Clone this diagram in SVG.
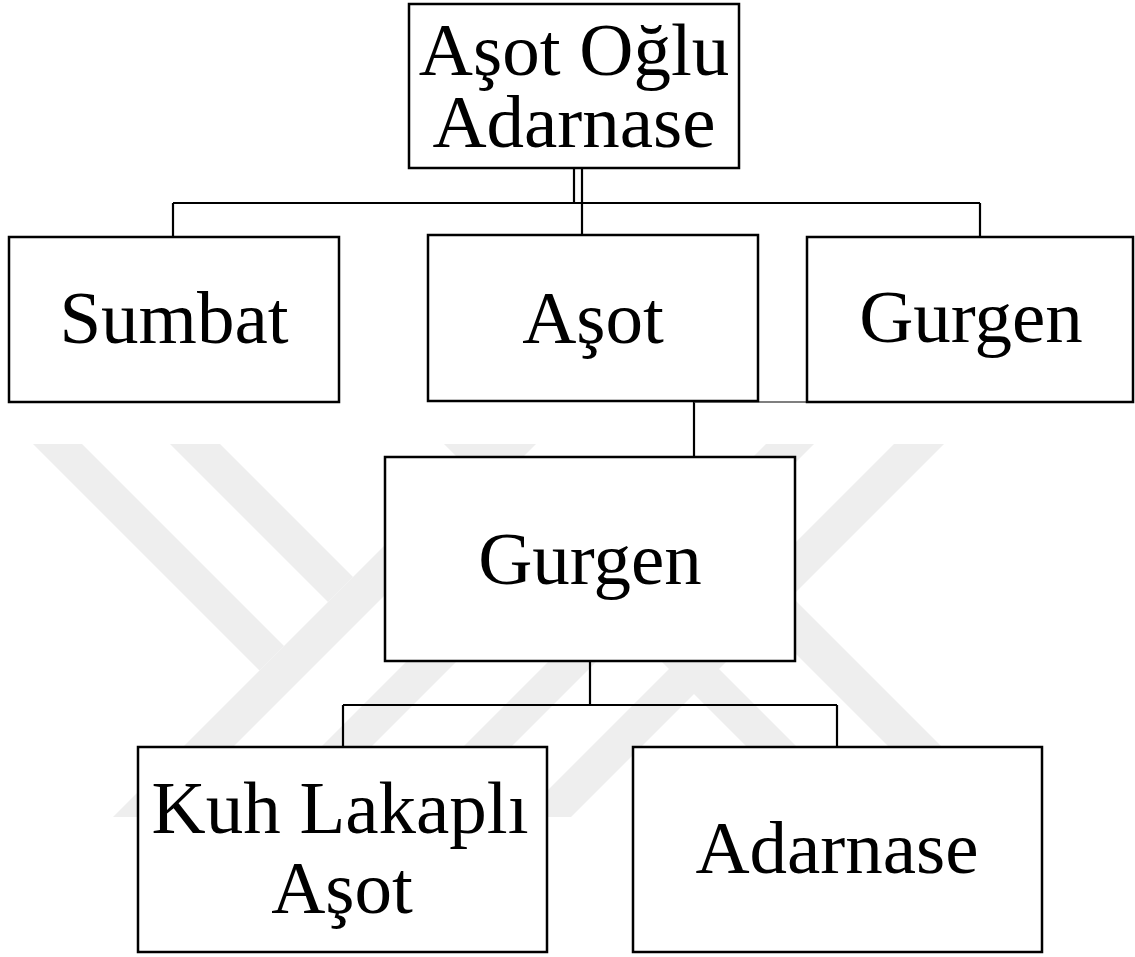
<svg xmlns="http://www.w3.org/2000/svg" width="1135" height="957" viewBox="0 0 1135 957">
<style>
.wm{fill:#eeeeee;stroke:none}
.box{fill:#ffffff;stroke:#000000;stroke-width:2.5}
.ln{fill:none;stroke:#000000;stroke-width:2.2}
.lbl{font-family:"Liberation Serif","Times New Roman",serif;font-size:75px;text-anchor:middle;fill:#000000}
</style>
<rect x="0" y="0" width="1135" height="957" fill="#ffffff"/>
<g id="watermark">
<polygon class="wm" points="33,444 82,444 284,646 259.5,670.5"/>
<polygon class="wm" points="170,444 220,444 353,577 328,602"/>
<polygon class="wm" points="486,444 536,444 163,817 113,817"/>
<polygon class="wm" points="444,444 494,444 867,817 817,817"/>
<polygon class="wm" points="251,817 301,817 559,559 534,534"/>
<polygon class="wm" points="766,444 814,444 441,817 393,817"/>
<polygon class="wm" points="894,444 944,444 571,817 521,817"/>
<polygon class="wm" points="765,623 791.5,596.5 1012,817 959,817"/>
</g>
<g id="connectors">
<line class="ln" x1="574" y1="168" x2="574" y2="203"/>
<line class="ln" x1="582" y1="168" x2="582" y2="235"/>
<line class="ln" x1="173" y1="203" x2="980" y2="203"/>
<line class="ln" x1="173" y1="203" x2="173" y2="237"/>
<line class="ln" x1="980" y1="203" x2="980" y2="237"/>
<line class="ln" x1="694" y1="402" x2="694" y2="457"/>
<line x1="694" y1="402" x2="807" y2="402" stroke="#555555" stroke-width="1.5"/>
<line class="ln" x1="590" y1="661" x2="590" y2="705"/>
<line class="ln" x1="343" y1="705" x2="837" y2="705"/>
<line class="ln" x1="343" y1="705" x2="343" y2="747"/>
<line class="ln" x1="837" y1="705" x2="837" y2="747"/>
</g>
<g id="n-asot-oglu-adarnase">
<rect class="box" x="409" y="4" width="330" height="164"/>
<text class="lbl" x="574" y="75">Aşot Oğlu</text>
<text class="lbl" x="574" y="147">Adarnase</text>
</g>
<g id="n-sumbat">
<rect class="box" x="9" y="237" width="330" height="165"/>
<text class="lbl" x="174" y="343">Sumbat</text>
</g>
<g id="n-asot">
<rect class="box" x="428" y="235" width="330" height="166"/>
<text class="lbl" x="593" y="343">Aşot</text>
</g>
<g id="n-gurgen-1">
<rect class="box" x="807" y="237" width="326" height="165"/>
<text class="lbl" x="971" y="342">Gurgen</text>
</g>
<g id="n-gurgen-2">
<rect class="box" x="385" y="457" width="410" height="204"/>
<text class="lbl" x="590" y="584">Gurgen</text>
</g>
<g id="n-kuh-lakapli-asot">
<rect class="box" x="138" y="747" width="409" height="205"/>
<text class="lbl" x="340" y="833">Kuh Lakaplı</text>
<text class="lbl" x="342" y="913">Aşot</text>
</g>
<g id="n-adarnase">
<rect class="box" x="633" y="747" width="409" height="205"/>
<text class="lbl" x="837" y="873">Adarnase</text>
</g>
</svg>
